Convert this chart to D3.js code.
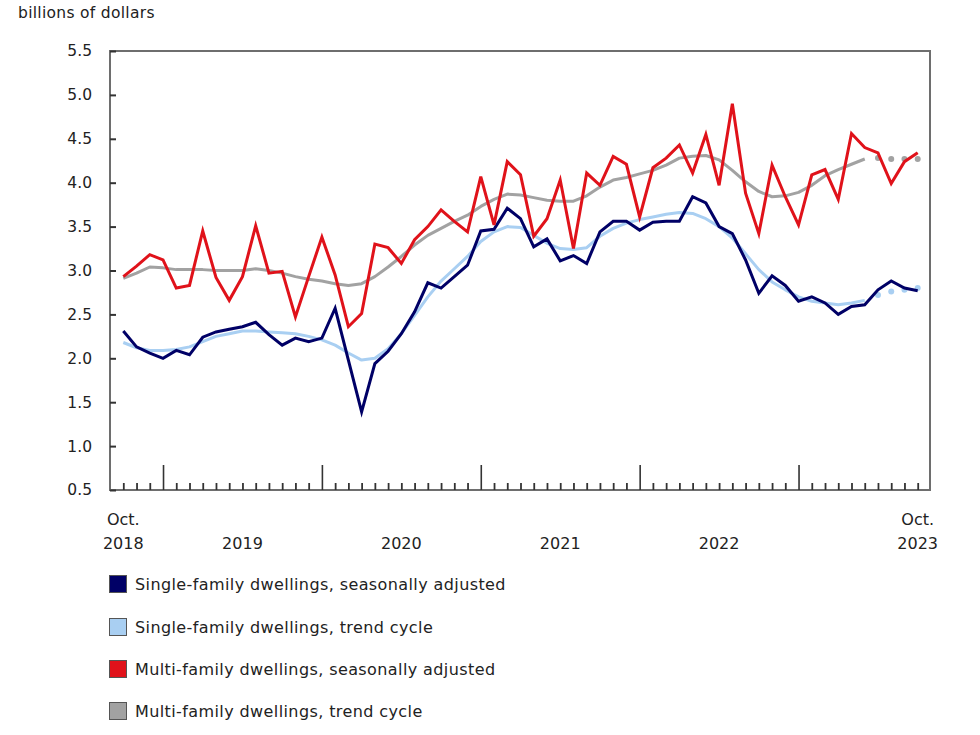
<!DOCTYPE html>
<html>
<head>
<meta charset="utf-8">
<script src="https://cdn.jsdelivr.net/npm/d3@7"></script>
<style>
  html, body { margin: 0; padding: 0; background: #fff; }
  svg { display: block; font-family: "DejaVu Sans", Verdana, sans-serif; }
</style>
</head>
<body>
<svg id="chart" width="980" height="735"></svg>
<script>
// ---- data (billions of dollars, Oct 2018 – Oct 2023, monthly) ----
const months = d3.timeMonth.range(new Date(2018, 9, 1), new Date(2023, 10, 1)).map(d3.timeFormat("%Y-%m"));

const singleSA = [2.31,2.13,2.06,2.00,2.09,2.04,2.24,2.30,2.33,2.36,2.41,2.27,2.15,2.23,2.19,2.23,2.57,1.98,1.39,1.94,
  2.08,2.28,2.53,2.86,2.80,2.93,3.06,3.45,3.47,3.71,3.59,3.27,3.36,3.11,3.17,3.08,3.44,3.56,3.56,3.46,
  3.55,3.56,3.56,3.84,3.77,3.50,3.42,3.12,2.74,2.94,2.83,2.65,2.70,2.63,2.50,2.59,2.61,2.78,2.88,2.80,2.77];
const singleTrend = [2.18,2.12,2.09,2.09,2.10,2.13,2.19,2.25,2.28,2.31,2.31,2.30,2.29,2.28,2.25,2.21,2.15,2.06,1.98,2.00,
  2.11,2.28,2.49,2.70,2.88,3.02,3.16,3.33,3.44,3.50,3.49,3.40,3.31,3.25,3.24,3.26,3.39,3.48,3.54,3.58,
  3.61,3.64,3.66,3.65,3.59,3.50,3.37,3.19,3.01,2.87,2.78,2.70,2.65,2.63,2.61,2.63,2.66,2.72,2.76,2.78,2.80];
const multiSA = [2.93,3.05,3.18,3.12,2.80,2.83,3.45,2.92,2.66,2.93,3.51,2.97,2.99,2.47,2.93,3.38,2.95,2.36,2.51,3.30,
  3.26,3.08,3.35,3.50,3.69,3.56,3.44,4.07,3.52,4.24,4.09,3.39,3.59,4.03,3.25,4.11,3.97,4.30,4.21,3.61,
  4.17,4.28,4.43,4.11,4.55,3.97,4.90,3.88,3.42,4.20,3.84,3.52,4.09,4.15,3.81,4.56,4.40,4.34,3.99,4.24,4.34];
const multiTrend = [2.91,2.97,3.04,3.03,3.01,3.01,3.01,3.00,3.00,3.00,3.02,3.00,2.97,2.93,2.90,2.88,2.85,2.83,2.85,2.93,
  3.04,3.16,3.29,3.40,3.48,3.56,3.63,3.73,3.81,3.87,3.86,3.83,3.80,3.79,3.79,3.85,3.95,4.03,4.06,4.10,
  4.14,4.20,4.28,4.30,4.31,4.26,4.14,4.01,3.90,3.84,3.85,3.89,3.97,4.08,4.15,4.21,4.27,4.28,4.27,4.27,4.27];
const lastFinalTrendIndex = 56; // trend-cycle shown dotted after this month

const yTicks = [0.5,1.0,1.5,2.0,2.5,3.0,3.5,4.0,4.5,5.0,5.5];
const yearLabels = [
  {month: "2019-07", text: "2019"},
  {month: "2020-07", text: "2020"},
  {month: "2021-07", text: "2021"},
  {month: "2022-07", text: "2022"}
];
const edgeLabels = [
  {month: "2018-10", lines: ["Oct.", "2018"]},
  {month: "2023-10", lines: ["Oct.", "2023"]}
];
const series = [
  {name: "Single-family dwellings, seasonally adjusted", values: singleSA, color: "#000066", trend: false},
  {name: "Single-family dwellings, trend cycle", values: singleTrend, color: "#a9cff2", trend: true},
  {name: "Multi-family dwellings, seasonally adjusted", values: multiSA, color: "#e0121a", trend: false},
  {name: "Multi-family dwellings, trend cycle", values: multiTrend, color: "#a2a2a2", trend: true}
];
const yTitle = "billions of dollars";

// ---- layout ----
const plot = {left: 110, right: 930, top: 51, bottom: 490};
const svg = d3.select("#chart");

const x = d3.scalePoint().domain(months).range([123.3, 917.7]);
const y = d3.scaleLinear().domain([0.5, 5.5]).range([plot.bottom, plot.top]);

// frame
svg.append("rect")
  .attr("x", plot.left).attr("y", plot.top)
  .attr("width", plot.right - plot.left).attr("height", plot.bottom - plot.top)
  .attr("fill", "none").attr("stroke", "#6e6e6e").attr("stroke-width", 2);

// y axis
const yAxis = d3.axisRight(y).tickValues(yTicks).tickSize(6).tickFormat("");
const gy = svg.append("g").attr("transform", `translate(${plot.left},0)`).call(yAxis);
gy.select(".domain").remove();
gy.selectAll(".tick line").attr("stroke", "#333").attr("stroke-width", 2);
svg.append("g").selectAll("text").data(yTicks).join("text")
  .attr("x", 92).attr("y", d => y(d)).attr("dy", "0.35em")
  .attr("text-anchor", "end").attr("font-size", 15.5).attr("fill", "#222")
  .text(d => d3.format(".1f")(d));

svg.append("text").attr("x", 18).attr("y", 18).attr("font-size", 15.5)
  .attr("letter-spacing", 0.3).attr("fill", "#222").text(yTitle);

// x axis ticks (minor each month, major at January)
const xAxis = d3.axisTop(x).tickValues(months).tickSizeOuter(0)
  .tickSize(7).tickFormat("");
const gx = svg.append("g").attr("transform", `translate(0,${plot.bottom})`).call(xAxis);
gx.select(".domain").remove();
gx.selectAll(".tick line")
  .attr("y2", d => d.endsWith("-01") ? -25 : -7)
  .attr("stroke", "#333").attr("stroke-width", d => d.endsWith("-01") ? 1.6 : 1.8);

// x labels
const xl = svg.append("g").attr("font-size", 16).attr("fill", "#222");
xl.selectAll("text.year").data(yearLabels).join("text")
  .attr("class", "year").attr("x", d => x(d.month)).attr("y", 549)
  .attr("text-anchor", "middle").text(d => d.text);
edgeLabels.forEach(e => {
  e.lines.forEach((t, k) => {
    xl.append("text").attr("x", x(e.month)).attr("y", 525 + k * 24)
      .attr("text-anchor", "middle").text(t);
  });
});

// lines (trends under, SA over as in reference)
const line = d3.line().x((d, i) => x(months[i])).y(d => y(d));
const drawOrder = [series[1], series[3], series[0], series[2]];
drawOrder.forEach(s => {
  if (s.trend) {
    const solid = s.values.map((v, i) => i <= lastFinalTrendIndex ? v : null);
    svg.append("path")
      .attr("d", d3.line().defined(d => d !== null).x((d, i) => x(months[i])).y(d => y(d))(solid))
      .attr("fill", "none").attr("stroke", s.color).attr("stroke-width", 3)
      .attr("stroke-linejoin", "round");
    const dots = s.values.map((v, i) => ({v, i})).filter(d => d.i > lastFinalTrendIndex);
    svg.append("g").selectAll("circle").data(dots).join("circle")
      .attr("cx", d => x(months[d.i])).attr("cy", d => y(d.v)).attr("r", 3)
      .attr("fill", s.color);
  } else {
    svg.append("path").attr("d", line(s.values))
      .attr("fill", "none").attr("stroke", s.color).attr("stroke-width", 3)
      .attr("stroke-linejoin", "miter");
  }
});

// legend
const leg = svg.append("g");
const legY = [584, 627, 669, 711];
series.forEach((s, k) => {
  leg.append("rect").attr("x", 109.5).attr("y", legY[k] - 8.5).attr("width", 17).attr("height", 17)
    .attr("fill", s.color).attr("stroke", "#555").attr("stroke-width", 1);
  leg.append("text").attr("x", 135).attr("y", legY[k]).attr("dy", "0.35em")
    .attr("font-size", 16).attr("letter-spacing", 0.4).attr("fill", "#222").text(s.name);
});
</script>
</body>
</html>
